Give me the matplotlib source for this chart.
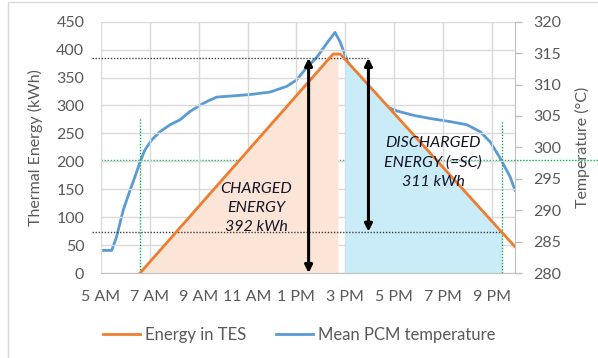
import numpy as np
import matplotlib.pyplot as plt
from matplotlib.patches import Rectangle

# time of day in hours (5 = 5 AM, 21 = 9 PM)
tes_hours = [6.6, 14.5, 14.8, 21.95]
tes_energy = [0, 392, 392, 47]  # kWh stored in the TES

pcm_hours = [5.0, 5.44, 5.64, 5.91, 6.19, 6.39, 6.6, 6.8, 7.08, 7.42, 7.83,
             8.24, 8.64, 9.05, 9.39, 9.74, 10.42, 11.1, 11.92, 12.6, 13.0,
             13.4, 13.85, 14.25, 14.58, 14.79, 14.99, 15.2, 15.33, 15.61,
             16.02, 16.56, 17.11, 17.79, 18.47, 19.29, 19.98, 20.52, 20.93,
             21.34, 21.75, 21.95]
pcm_temp = [283.6, 283.6, 285.8, 290.0, 293.2, 295.3, 297.7, 299.6, 301.2,
            302.5, 303.6, 304.4, 305.7, 306.7, 307.4, 308.0, 308.2, 308.4,
            308.8, 309.7, 310.7, 312.6, 314.4, 316.6, 318.3, 316.8, 314.7,
            312.6, 309.9, 308.9, 307.8, 306.7, 305.8, 305.1, 304.6, 304.1,
            303.6, 302.5, 300.9, 298.3, 295.3, 293.2]

tick_hours = [5, 7, 9, 11, 13, 15, 17, 19, 21]
tick_labels = ['5 AM', '7 AM', '9 AM', '11 AM', '1 PM', '3 PM', '5 PM',
               '7 PM', '9 PM']

charge_window = (6.6, 14.7)
discharge_window = (15.0, 21.4)
melt_temp = 298            # degC threshold
full_level = 385           # kWh
end_level = 74             # kWh
charged_kwh = 392
discharged_kwh = 311

ORANGE = '#ED7D31'
BLUE = '#5B9BD5'
GREEN = '#00B050'
GREY = '#595959'

plt.rcParams['font.family'] = ['Lato', 'DejaVu Sans']

fig = plt.figure(figsize=(5.98, 3.58), dpi=100)
ax = fig.add_axes([0.1689, 0.2374, 0.6923, 0.702])
ax2 = ax.twinx()

ax.set_xlim(5, 21.95)
ax.set_ylim(0, 450)
ax2.set_ylim(280, 320)

# shaded charge / discharge areas under the energy curve
xs = np.linspace(*charge_window, 200)
ax.fill_between(xs, 0, np.interp(xs, tes_hours, tes_energy),
                color='#FCE4D6', lw=0, zorder=1)
xs = np.linspace(*discharge_window, 200)
ax.fill_between(xs, 0, np.interp(xs, tes_hours, tes_energy),
                color='#C9ECF8', lw=0, zorder=1)

ax.plot(tes_hours, tes_energy, color=ORANGE, lw=2, zorder=4,
        label='Energy in TES')

# reference levels
left_x = 5 + (92 - 101) / 24.42
ax.plot([left_x, 15.95], [full_level] * 2, ls=(0, (1, 1.2)), color='#404040',
        lw=1, clip_on=False, zorder=3)
ax.plot([left_x, discharge_window[1]], [end_level] * 2, ls=(0, (1, 1.2)),
        color='#404040', lw=1, clip_on=False, zorder=3)
ax.vlines([charge_window[0], discharge_window[1]], 0, [277, 271],
          color=GREEN, ls=(0, (1, 1.2)), lw=1, zorder=3)

# double arrows for charged and discharged energy
for x, lo in [(13.5, 0), (15.95, end_level)]:
    ax.annotate('', xy=(x, full_level), xytext=(x, lo),
                arrowprops=dict(arrowstyle='<|-|>', color='black', lw=2.2,
                                mutation_scale=11, shrinkA=0, shrinkB=0),
                zorder=6)

txt = dict(ha='center', va='center', style='italic', fontsize=11.5,
           color='#141428', linespacing=1.45, zorder=7)
ax.text(11.37, 116, f'CHARGED\nENERGY\n{charged_kwh} kWh', **txt)
ax.text(18.6, 198, f'DISCHARGED\nENERGY (=SC)\n{discharged_kwh} kWh', **txt)

ax2.plot(pcm_hours, pcm_temp, color=BLUE, lw=2, zorder=5,
         label='Mean PCM temperature', solid_joinstyle='round')
ax2.plot([5, 5 + (598 - 101) / 24.42], [melt_temp] * 2, color=GREEN,
         ls=(0, (1, 1.2)), lw=1, clip_on=False, zorder=3)

ax.set_xticks(tick_hours)
ax.set_xticklabels(tick_labels)
ax.set_yticks(np.arange(0, 451, 50))
ax2.set_yticks(np.arange(280, 321, 5))
ax.grid(True, color='#D9D9D9', lw=1)
ax.set_axisbelow(True)
ax.set_zorder(ax2.get_zorder() + 1)
ax.patch.set_visible(False)

for a in (ax, ax2):
    for s in a.spines.values():
        s.set_visible(False)
    a.tick_params(labelsize=11.5, labelcolor=GREY)
ax.spines['bottom'].set_visible(True)
ax.spines['bottom'].set_color('#BFBFBF')
ax2.spines['right'].set_visible(True)
ax2.spines['right'].set_color('#BFBFBF')
ax.tick_params(axis='both', length=0, pad=12)
ax2.tick_params(axis='y', length=5, width=1, color='#BFBFBF', pad=8)

ax.set_ylabel('Thermal Energy (kWh)', fontsize=11.5, color=GREY)
ax.yaxis.set_label_coords(-0.14, 0.5)
ax2.set_ylabel('Temperature (°C)', fontsize=11.5, color=GREY)
ax2.yaxis.set_label_coords(1.145, 0.5)

h1, l1 = ax.get_legend_handles_labels()
h2, l2 = ax2.get_legend_handles_labels()
leg = fig.legend(h1 + h2, l1 + l2, loc='center', bbox_to_anchor=(0.5, 0.064),
                 ncol=2, frameon=False, fontsize=12, handlelength=2.2,
                 columnspacing=1.8, handletextpad=0.3)
for t in leg.get_texts():
    t.set_color(GREY)

# chart area border
fig.patches.append(Rectangle((8 / 598, -0.1), 1.1, 1 - 2 / 358 + 0.1,
                             transform=fig.transFigure, fill=False,
                             edgecolor='#D9D9D9', lw=1))

fig.savefig('out.png', dpi=100)
